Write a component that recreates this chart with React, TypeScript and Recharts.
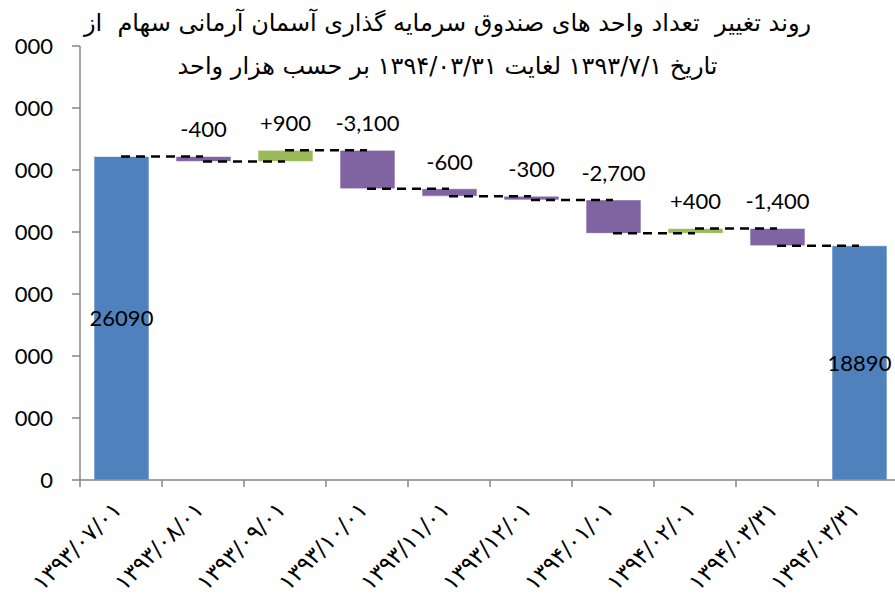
import React from 'react';
import { ComposedChart, Bar, Cell, XAxis, YAxis, ReferenceLine, LabelList } from 'recharts';

// category labels (last two share the same date)
const categories = [
  '۱۳۹۳/۰۷/۰۱',
  '۱۳۹۳/۰۸/۰۱',
  '۱۳۹۳/۰۹/۰۱',
  '۱۳۹۳/۱۰/۰۱',
  '۱۳۹۳/۱۱/۰۱',
  '۱۳۹۳/۱۲/۰۱',
  '۱۳۹۴/۰۱/۰۱',
  '۱۳۹۴/۰۲/۰۱',
  '۱۳۹۴/۰۳/۳۱',
  '۱۳۹۴/۰۳/۳۱',
];
const startTotal = 26090;
const endTotal = 18890;
// changes between the two totals, in thousand units
const changes = [-400, 900, -3100, -600, -300, -2700, 400, -1400];
const yTicks = [0, 5000, 10000, 15000, 20000, 25000, 30000, 35000];

const BLUE = '#4F81BD';
const PURPLE = '#8064A2';
const GREEN = '#9BBB59';
const AXIS = '#868686';
const NUM_FONT = 'Lato, "Liberation Sans", sans-serif';

interface Row {
  key: number;
  base: number;
  value: number;
  kind: 'total' | 'up' | 'down';
  level: number;
  label: string;
}

function buildRows(): Row[] {
  const rows: Row[] = [
    { key: 0, base: 0, value: startTotal, kind: 'total', level: startTotal, label: String(startTotal) },
  ];
  let level = startTotal;
  changes.forEach((c, i) => {
    const next = level + c;
    rows.push({
      key: i + 1,
      base: Math.min(level, next),
      value: Math.abs(c),
      kind: c >= 0 ? 'up' : 'down',
      level: next,
      label: (c > 0 ? '+' : '') + c.toLocaleString('en-US'),
    });
    level = next;
  });
  rows.push({ key: rows.length, base: 0, value: endTotal, kind: 'total', level: endTotal, label: String(endTotal) });
  return rows;
}

const rows = buildRows();

// label rotated at the category centre, tick mark drawn at the category boundary
function XTick({ x, y, payload }: { x?: number; y?: number; payload?: { value: number; offset?: number } }) {
  const cx = x ?? 0;
  const cy = y ?? 0;
  const half = payload?.offset ?? 41;
  return (
    <g>
      <line x1={cx - half} x2={cx - half} y1={cy} y2={cy + 7} stroke={AXIS} strokeWidth={1.5} />
      <g transform={`translate(${cx + 2},${cy + 31})`}>
        <text
          x={0}
          y={0}
          textAnchor="end"
          transform="rotate(-45)"
          fontSize={23}
          fontFamily='"DejaVu Sans", sans-serif'
          fill="#000"
        >
          {categories[payload?.value ?? 0]}
        </text>
      </g>
    </g>
  );
}

function BarLabel(props: any) {
  const { x, y, width, height, index } = props;
  const row = rows[index];
  if (!row) return null;
  const cx = x + width / 2;
  if (row.kind === 'total') {
    return (
      <text x={cx} y={y + height / 2} dy="0.35em" textAnchor="middle" fontSize={22} fontFamily={NUM_FONT} fill="#000">
        {row.label}
      </text>
    );
  }
  return (
    <text x={cx} y={y - 19} textAnchor="middle" fontSize={22} fontFamily={NUM_FONT} fill="#000">
      {row.label}
    </text>
  );
}

export default function App() {
  return (
    <div style={{ position: 'absolute', left: 0, top: 0, width: 895, height: 596, overflow: 'hidden', background: '#fff' }}>
      <div style={{ position: 'absolute', left: 14, top: 0, width: 881, height: 596, overflow: 'hidden' }}>
        <div style={{ position: 'absolute', left: -14, top: 0 }}>
          <ComposedChart
            width={920}
            height={596}
            data={rows}
            margin={{ top: 46, right: 20, bottom: 0, left: 0 }}
            barSize={55}
          >
            <XAxis
              dataKey="key"
              type="category"
              interval={0}
              height={116}
              tick={<XTick />}
              tickSize={0}
              tickMargin={0}
              tickLine={false}
              axisLine={{ stroke: AXIS, strokeWidth: 1.5 }}
            />
            <YAxis
              domain={[0, 35000]}
              ticks={yTicks}
              width={80}
              tickSize={8}
              tickMargin={19}
              tickFormatter={(v: number) => v.toLocaleString('en-US')}
              tick={{ fontSize: 22, fill: '#000', fontFamily: NUM_FONT }}
              axisLine={{ stroke: AXIS, strokeWidth: 1.5 }}
              tickLine={{ stroke: AXIS, strokeWidth: 1.5 }}
            />
            <Bar dataKey="base" stackId="w" fill="transparent" isAnimationActive={false} />
            <Bar dataKey="value" stackId="w" isAnimationActive={false} stroke="#ffffff" strokeOpacity={0.6} strokeWidth={1}>
              {rows.map((r) => (
                <Cell key={`c-${r.key}`} fill={r.kind === 'total' ? BLUE : r.kind === 'up' ? GREEN : PURPLE} />
              ))}
              <LabelList dataKey="value" content={<BarLabel />} />
            </Bar>
            {rows.slice(0, -1).map((r, i) => (
              <ReferenceLine
                key={`conn-${i}`}
                segment={[
                  { x: r.key, y: r.level },
                  { x: rows[i + 1].key, y: r.level },
                ]}
                stroke="#000"
                strokeWidth={2.5}
                strokeDasharray="9 6"
              />
            ))}
          </ComposedChart>
        </div>
      </div>
      <div
        style={{
          position: 'absolute',
          left: 0,
          top: 2,
          width: 895,
          textAlign: 'center',
          direction: 'rtl',
          whiteSpace: 'pre',
          fontFamily: '"DejaVu Sans", sans-serif',
          fontSize: 24,
          lineHeight: '43px',
          color: '#000',
        }}
      >
        <div>روند تغییر  تعداد واحد های صندوق سرمایه گذاری آسمان آرمانی سهام  از</div>
        <div>تاریخ ۱۳۹۳/۷/۱ لغایت ۱۳۹۴/۰۳/۳۱ بر حسب هزار واحد</div>
      </div>
    </div>
  );
}
